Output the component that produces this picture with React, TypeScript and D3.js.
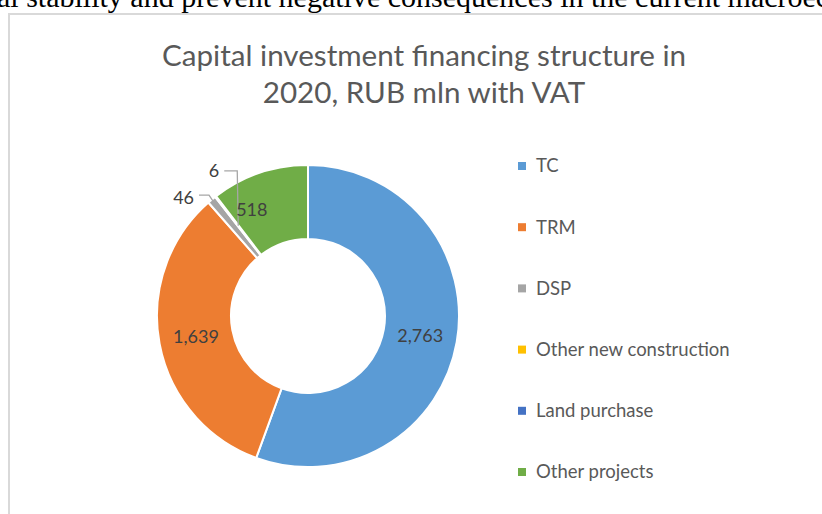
import React from "react";
import * as d3 from "d3";

const categories = ["TC", "TRM", "DSP", "Other new construction", "Land purchase", "Other projects"];
const values = [2763, 1639, 46, 6, 0, 518];
const valueLabels = ["2,763", "1,639", "46", "6", "", "518"];
const colors = ["#5b9bd5", "#ed7d31", "#a5a5a5", "#ffc000", "#4472c4", "#70ad47"];
const titleLines = ["Capital investment financing structure in", "2020, RUB mln with VAT"];
const topText = "al stability and prevent negative consequences in the current macroec";

const W = 822;
const H = 514;
const FONT = "Lato, 'Open Sans', sans-serif";

export default function App() {
  const cx = 308;
  const cy = 316;
  const rOuter = 151;
  const rInner = 77;
  const data = categories.map((c, i) => ({ name: c, value: values[i], label: valueLabels[i], color: colors[i] }));
  const pie = d3.pie<any>().sort(null).value((d: any) => d.value);
  const arcs = pie(data);
  const arc = d3.arc<any>().innerRadius(rInner).outerRadius(rOuter);
  const midR = (rInner + rOuter) / 2;
  const legendY = d3.scalePoint<string>().domain(categories).range([166, 472]);

  const pt = (a: number, r: number) => [Math.sin(a) * r, -Math.cos(a) * r];

  return (
    <svg width={W} height={H} style={{ position: "absolute", left: 0, top: 0, background: "#fff" }}>
      <text x={-3} y={7} fontFamily="'Liberation Serif', 'Times New Roman', serif" fontSize={30} fill="#000">
        {topText}
      </text>
      <rect x={9} y={14} width={W + 20} height={H + 20} fill="#fff" stroke="#d9d9d9" strokeWidth={2} />
      {titleLines.map((t, i) => (
        <text key={i} x={424} y={66 + i * 37} textAnchor="middle" fontFamily={FONT} fontSize={29.6} fill="#595959">
          {t}
        </text>
      ))}
      <g transform={`translate(${cx},${cy})`}>
        {arcs.map((a, i) =>
          a.data.value > 0 ? (
            <path key={i} d={arc(a) as string} fill={a.data.color} stroke="#fff" strokeWidth={2} strokeLinejoin="round" />
          ) : null
        )}
        {arcs.map((a, i) => {
          const d = a.data;
          if (!d.label) return null;
          const mid = (a.startAngle + a.endAngle) / 2;
          if (d.value > 300) {
            let ang = mid;
            if (d.name === "Other projects") ang = mid - 0.16;
            const [x, y] = pt(ang, midR + (d.name === "Other projects" ? 6 : 0));
            return (
              <text key={i} x={x} y={y} dy="0.35em" textAnchor="middle" fontFamily={FONT} fontSize={18} fill="#404040">
                {d.label}
              </text>
            );
          }
          if (d.name === "DSP") {
            const [ox, oy] = pt(mid, rOuter - 2);
            const lx = ox - 4;
            const ly = oy - 6;
            return (
              <g key={i}>
                <polyline points={`${lx - 10},${ly} ${lx},${ly} ${ox},${oy}`} fill="none" stroke="#a6a6a6" strokeWidth={1.3} />
                <text x={lx - 15} y={ly + 2} dy="0.35em" textAnchor="end" fontFamily={FONT} fontSize={18} fill="#404040">
                  {d.label}
                </text>
              </g>
            );
          }
          const [px, py] = pt(mid, midR);
          const tx = px - 13;
          const ty = py - 55;
          return (
            <g key={i}>
              <polyline points={`${tx - 1},${ty} ${px - 1},${ty} ${px},${py}`} fill="none" stroke="#a6a6a6" strokeWidth={1.3} />
              <text x={tx - 6} y={ty} dy="0.35em" textAnchor="end" fontFamily={FONT} fontSize={18} fill="#404040">
                {d.label}
              </text>
            </g>
          );
        })}
      </g>
      {categories.map((c, i) => (
        <g key={c} transform={`translate(522,${legendY(c)})`}>
          <rect x={-4} y={-4} width={8} height={8} fill={colors[i]} />
          <text x={14} y={0} dy="0.35em" fontFamily={FONT} fontSize={18.5} fill="#595959">
            {c}
          </text>
        </g>
      ))}
    </svg>
  );
}
